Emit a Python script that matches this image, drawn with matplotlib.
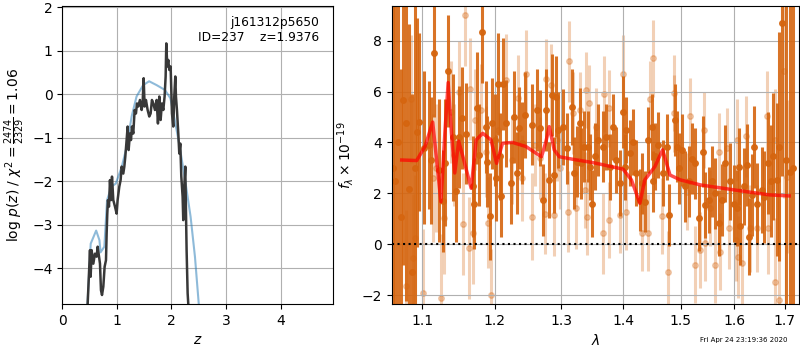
import numpy as np
import matplotlib
matplotlib.use('Agg')
import matplotlib.pyplot as plt
from matplotlib.ticker import FixedLocator, FormatStrFormatter, NullLocator


#Redshift fit: noisy log p(z) and its smooth template
z_pz = [0.464, 0.507, 0.519, 0.537, 0.568, 0.598, 0.629, 0.647, 0.665, 0.690,
        0.708, 0.727, 0.751, 0.775, 0.800, 0.812, 0.824, 0.836, 0.855, 0.873,
        0.891, 0.910, 0.934, 0.965, 0.995, 1.013, 1.044, 1.068, 1.087, 1.117,
        1.136, 1.154, 1.178, 1.197, 1.215, 1.239, 1.258, 1.276, 1.300, 1.325,
        1.349, 1.368, 1.392, 1.422, 1.453, 1.471, 1.490, 1.508, 1.532, 1.563,
        1.593, 1.618, 1.642, 1.667, 1.697, 1.728, 1.752, 1.777, 1.801, 1.825,
        1.850, 1.874, 1.893, 1.905, 1.923, 1.941, 1.960, 1.984, 2.009, 2.033,
        2.051, 2.070, 2.082, 2.100, 2.125, 2.143, 2.161, 2.180, 2.204, 2.216,
        2.234, 2.253, 2.265, 2.277, 2.296, 2.308]
logp = [-4.82, -3.58, -4.19, -3.58, -3.89, -3.66, -3.73, -3.50, -3.66, -3.89,
        -4.50, -4.61, -4.42, -3.96, -3.81, -3.20, -2.74, -2.43, -2.58, -1.97,
        -2.43, -1.89, -2.43, -2.58, -2.74, -2.43, -2.12, -1.97, -1.66, -1.82,
        -1.66, -1.43, -1.05, -0.74, -1.28, -0.90, -1.05, -0.74, -0.90, -0.36,
        -0.44, -0.21, -0.28, -0.13, -0.36, -0.21, 0.37, -0.28, -0.13, -0.36,
        -0.51, -0.44, -0.13, -0.21, -0.36, -0.13, -0.67, -0.05, -0.59, -0.21,
        -0.36, -0.05, 0.41, 1.17, 0.64, 0.79, 0.56, 0.64, -0.44, -0.74,
        -0.05, 0.41, -0.05, -0.36, -0.90, -1.36, -1.13, -1.89, -2.35, -2.89,
        -2.12, -1.66, -2.66, -3.58, -4.57, -4.82]

z_tmpl = [0.46, 0.52, 0.62, 0.68, 0.70, 0.77, 0.82, 0.90, 0.98, 1.09, 1.18,
          1.27, 1.36, 1.48, 1.59, 1.73, 1.88, 1.98, 2.06, 2.15, 2.25, 2.35,
          2.43, 2.50]
logp_tmpl = [-4.82, -3.43, -3.13, -3.35, -3.63, -3.50, -2.43, -2.12, -2.05,
             -1.66, -1.20, -0.51, -0.05, 0.21, 0.30, 0.21, 0.10, -0.09, -0.59,
             -1.20, -1.97, -2.81, -3.73, -4.82]

#Spectrum, first set (dark)
lam_a = [1.0625, 1.0640, 1.0680, 1.0722, 1.0744, 1.0787, 1.0826, 1.0865, 1.0900,
         1.0930, 1.0956, 1.1022, 1.1088, 1.1115, 1.1155, 1.1221, 1.1274, 1.1301,
         1.1341, 1.1408, 1.1448, 1.1489, 1.1533, 1.1599, 1.1687, 1.1710, 1.1750,
         1.1777, 1.1822, 1.1868, 1.1890, 1.1936, 1.1958, 1.2005, 1.2013, 1.2050,
         1.2074, 1.2088, 1.2120, 1.2166, 1.2236, 1.2283, 1.2320, 1.2354, 1.2401,
         1.2449, 1.2543, 1.2618, 1.2668, 1.2718, 1.2759, 1.2810, 1.2847, 1.2882,
         1.2913, 1.2949, 1.3027, 1.3080, 1.3159, 1.3200, 1.3238, 1.3290, 1.3317,
         1.3359, 1.3423, 1.3450, 1.3493, 1.3530, 1.3583, 1.3667, 1.3722, 1.3777,
         1.3831, 1.3888, 1.3943, 1.3999, 1.4028, 1.4056, 1.4112, 1.4168, 1.4226,
         1.4283, 1.4329, 1.4369, 1.4426, 1.4485, 1.4513, 1.4542, 1.4600, 1.4688,
         1.4748, 1.4800, 1.4904, 1.4934, 1.4963, 1.5024, 1.5084, 1.5144, 1.5206,
         1.5266, 1.5327, 1.5401, 1.5451, 1.5513, 1.5576, 1.5638, 1.5700, 1.5764,
         1.5827, 1.5909, 1.5985, 1.6050, 1.6081, 1.6113, 1.6177, 1.6243, 1.6288,
         1.6340, 1.6391, 1.6438, 1.6537, 1.6589, 1.6669, 1.6723, 1.6769, 1.6837,
         1.6884, 1.6938, 1.7020, 1.7108, 1.7160]
flux_a = [3.0, 2.5, 4.0, 1.07, 5.67, 4.76, 2.17, -1.08, 3.0,
          4.4, 4.8, 3.8, 3.9, 3.3, 7.5, 2.9, 1.7, 3.2,
          6.8, 4.2, 2.1, 4.2, 4.95, 4.35, 2.27, 1.6, 5.35,
          3.5, 8.33, 4.6, 3.25, 1.1, 4.75, 4.1, 2.6, 6.3,
          3.45, 1.9, 6.3, 4.75, 2.4, 5.0, 2.8, 4.56, 3.97,
          5.08, 4.7, 5.27, 4.56, 1.74, 5.27, 2.53, 5.86, 2.72,
          5.8, 4.49, 4.6, 3.77, 5.4, 2.8, 3.25, 4.75, 3.18,
          3.83, 3.83, 3.05, 1.6, 3.45, 4.1, 3.83, 4.22, 3.05,
          4.62, 3.3, 2.4, 5.2, 3.05, 4.49, 3.57, 4.03, 2.8,
          1.74, 2.4, 1.67, 4.1, 4.62, 2.47, 3.45, 3.9, 2.8,
          3.83, 1.15, 4.88, 3.83, 2.99, 3.7, 2.27, 2.47, 3.36,
          3.18, 1.02, 3.64, 1.54, 1.74, 2.47, 2.0, 0.83, 1.74,
          3.18, 2.47, 1.6, 1.42, 3.05, 0.7, 2.27, 3.12, 0.3,
          1.93, 3.83, 1.6, 2.13, 1.87, 3.18, 2.47, 3.45, 2.53,
          3.83, 8.68, 3.3, 2.85, 3.0]
err_a = [9.0, 8.5, 9.0, 5.8, 6.5, 7.0, 6.5, 7.0, 8.0,
         4.5, 3.5, 3.0, 2.5, 2.5, 2.5, 2.8, 2.0, 2.5,
         2.2, 2.5, 2.0, 2.0, 2.0, 2.0, 2.0, 1.8, 2.2,
         2.0, 2.0, 1.8, 1.8, 1.7, 1.8, 1.8, 1.7, 2.0,
         1.7, 1.6, 1.8, 1.7, 1.6, 1.8, 1.6, 1.6, 1.6,
         1.7, 1.6, 1.6, 1.5, 1.4, 1.6, 1.5, 1.6, 1.5,
         1.6, 1.5, 1.5, 1.4, 1.5, 1.4, 1.4, 1.4, 1.4,
         1.4, 1.4, 1.3, 1.3, 1.3, 1.4, 1.4, 1.3, 1.3,
         1.3, 1.3, 1.3, 1.4, 1.3, 1.3, 1.3, 1.3, 1.3,
         1.2, 1.2, 1.2, 1.3, 1.3, 1.2, 1.3, 1.3, 1.3,
         1.3, 1.2, 1.4, 1.4, 1.4, 1.4, 1.4, 1.4, 1.4,
         1.4, 1.3, 1.4, 1.3, 1.3, 1.4, 1.4, 1.3, 1.4,
         1.5, 1.5, 1.5, 1.5, 1.5, 1.5, 1.5, 1.6, 1.5,
         1.6, 1.6, 1.6, 1.7, 1.8, 2.0, 2.2, 2.5, 3.0,
         4.5, 6.0, 7.0, 7.0, 9.0]

#Spectrum, second set (light)
lam_b = [1.0787, 1.0848, 1.0882, 1.0904, 1.1013, 1.1146, 1.1182, 1.1245, 1.1293,
         1.1380, 1.1420, 1.1489, 1.1550, 1.1580, 1.1634, 1.1648, 1.1687, 1.1720,
         1.1810, 1.1880, 1.1902, 1.1940, 1.2050, 1.2166, 1.2250, 1.2336, 1.2400,
         1.2460, 1.2550, 1.2600, 1.2668, 1.2744, 1.2762, 1.2839, 1.2882, 1.2924,
         1.2980, 1.3105, 1.3125, 1.3184, 1.3227, 1.3290, 1.3370, 1.3397, 1.3410,
         1.3439, 1.3557, 1.3667, 1.3683, 1.3765, 1.3770, 1.3955, 1.3999, 1.4045,
         1.4329, 1.4426, 1.4455, 1.4513, 1.4660, 1.4777, 1.4874, 1.4886, 1.5115,
         1.5175, 1.5266, 1.5358, 1.5419, 1.5451, 1.5544, 1.5638, 1.5700, 1.5732,
         1.5859, 1.5890, 1.6035, 1.6050, 1.6069, 1.6146, 1.6223, 1.6307, 1.6440,
         1.6649, 1.6669, 1.6803, 1.6810, 1.6890, 1.6985, 1.7040]
flux_b = [-1.64, 5.7, -0.53, 0.24, -1.9, 2.6, 3.0, -2.1, 1.03,
          5.2, 3.5, 6.0, 0.8, 9.0, -0.15, 6.1, 0.43, 4.9,
          5.28, 3.64, 0.85, -1.98, 4.5, 6.45, 3.3, 5.74, 2.6,
          6.7, 1.09, 3.9, 3.38, 1.2, 6.48, 6.26, 1.15, 4.1,
          3.0, 1.28, 7.18, 5.15, 1.42, 5.27, 2.13, 6.06, 1.08,
          5.53, 4.62, 0.43, 5.9, 5.34, 0.95, 1.15, 6.7, 1.28,
          0.46, 0.46, 5.7, 7.3, 1.12, -1.07, 5.14, 5.93, 2.07,
          5.02, -0.8, -0.22, 4.49, 0.04, 1.42, -0.8, 3.64, -0.29,
          3.77, 0.63, 0.17, 4.1, -0.49, -0.75, 4.24, 0.63, 0.63,
          5.02, 0.63, -1.47, 4.1, -2.2, 6.8, 2.66]
err_b = [3.0, 2.5, 2.5, 2.5, 2.5, 2.5, 2.5, 2.5, 2.2,
         2.0, 2.0, 2.0, 2.0, 2.0, 2.0, 2.0, 2.0, 2.0,
         1.8, 1.8, 1.8, 1.8, 1.8, 1.8, 1.7, 1.7, 1.7,
         1.7, 1.7, 1.6, 1.6, 1.6, 1.6, 1.6, 1.6, 1.6,
         1.6, 1.6, 1.6, 1.6, 1.6, 1.5, 1.5, 1.5, 1.5,
         1.5, 1.5, 1.6, 1.5, 1.5, 1.5, 1.5, 1.5, 1.5,
         1.5, 1.5, 1.5, 1.5, 1.5, 1.6, 1.5, 1.5, 1.5,
         1.5, 1.5, 1.5, 1.5, 1.5, 1.5, 1.5, 1.5, 1.5,
         1.6, 1.6, 1.6, 1.6, 1.6, 1.6, 1.6, 1.7, 1.7,
         1.8, 1.8, 2.5, 2.0, 4.0, 5.0, 3.0]

#Best-fit model
lam_model = [1.0732, 1.0926, 1.1036, 1.1138, 1.1191, 1.1249, 1.1302, 1.1347,
             1.1392, 1.1437, 1.1491, 1.1550, 1.1665, 1.1735, 1.1828, 1.1946,
             1.2026, 1.2113, 1.2259, 1.2457, 1.2608, 1.2693, 1.2760, 1.2811,
             1.2888, 1.2966, 1.3176, 1.3499, 1.3999, 1.4140, 1.4283, 1.4369,
             1.4543, 1.4679, 1.4810, 1.4993, 1.5367, 1.6018, 1.6692, 1.7089]
flux_model = [3.31, 3.29, 3.84, 4.80, 3.31, 1.67, 4.36, 6.35, 4.36, 2.80,
              4.05, 3.44, 2.20, 4.10, 4.36, 4.10, 3.18, 3.97, 4.00, 3.84,
              3.58, 3.44, 4.03, 4.62, 3.71, 3.44, 3.34, 3.21, 2.95, 2.53,
              1.61, 2.53, 3.05, 3.71, 2.72, 2.53, 2.33, 2.13, 1.94, 1.90]

title_text = 'j161312p5650\nID=237    z=1.9376'
timestamp = 'Fri Apr 24 23:19:36 2020'


fig = plt.figure(figsize=(8, 3.5), dpi=100)

#Left: p(z)
ax1 = fig.add_axes([0.0779, 0.131, 0.3384, 0.852])
ax1.plot(z_tmpl, logp_tmpl, color='tab:blue', alpha=0.5, lw=1.5)
ax1.plot(z_pz, logp, color='0.22', lw=1.8)
ax1.set_xlim(0, 4.96)
ax1.set_ylim(-4.82, 2.03)
ax1.set_xticks([0, 1, 2, 3, 4])
ax1.set_yticks([-4, -3, -2, -1, 0, 1, 2])
ax1.grid()
ax1.set_xlabel('$z$')
ax1.set_ylabel(r'log $p(z)$ / $\chi^2=\frac{2474}{2329}=1.06$')
ax1.text(0.948, 0.965, title_text, ha='right', va='top', multialignment='right',
         transform=ax1.transAxes, fontsize=8.8)

#Right: spectrum
ax2 = fig.add_axes([0.4896, 0.131, 0.5095, 0.852])
ax2.errorbar(lam_b, flux_b, yerr=err_b, fmt='o', color='#d5650f', alpha=0.3,
             ms=4, elinewidth=2.2, zorder=1)
ax2.errorbar(lam_a, flux_a, yerr=err_a, fmt='o', color='#d5650f', alpha=0.9,
             ms=4, elinewidth=2.2, zorder=2)
ax2.plot(lam_model, flux_model, color='red', alpha=0.7, lw=2.5, zorder=3)
ax2.axhline(0, color='k', ls=':', lw=1.5, zorder=4)
ax2.set_xscale('log')
ax2.xaxis.set_major_locator(FixedLocator([1.1, 1.2, 1.3, 1.4, 1.5, 1.6, 1.7]))
ax2.xaxis.set_major_formatter(FormatStrFormatter('%.1f'))
ax2.xaxis.set_minor_locator(NullLocator())
ax2.set_xlim(1.0603, 1.7297)
ax2.set_ylim(-2.35, 9.36)
ax2.set_yticks([-2, 0, 2, 4, 6, 8])
ax2.grid()
ax2.set_xlabel(r'$\lambda$')
ax2.set_ylabel(r'$f_\lambda\times10^{-19}$')

fig.text(0.985, 0.029, timestamp, ha='right', va='center', fontsize=5)

plt.savefig('out.png', dpi=100)
